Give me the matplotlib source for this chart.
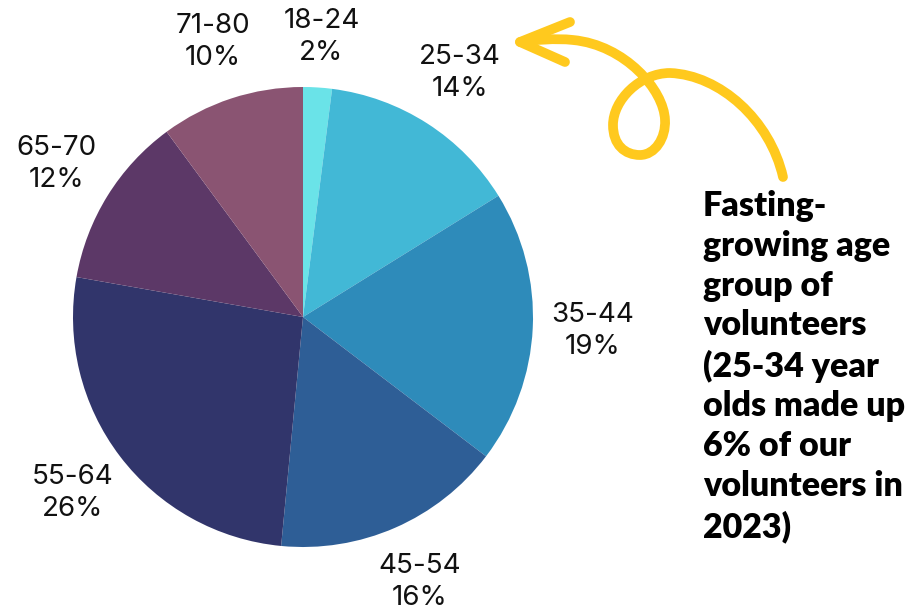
import numpy as np
import matplotlib.pyplot as plt
from matplotlib.path import Path
from matplotlib.patches import PathPatch

age_groups = ["18-24", "25-34", "35-44", "45-54", "55-64", "65-70", "71-80"]
shares = [2, 14, 19, 16, 26, 12, 10]
colors = ["#6AE3E8", "#42B8D6", "#2E8BBA", "#2E5E96", "#31356B", "#5C3867", "#8A5472"]
note = ("Fasting-\ngrowing age\ngroup of\nvolunteers\n(25-34 year\n"
        "olds made up\n6% of our\nvolunteers in\n2023)")

W, H = 911, 612
fig = plt.figure(figsize=(W / 100, H / 100), dpi=100)
fig.patch.set_facecolor("white")

# pie centre at (303, 317) px, radius 230 px
cx, cy, r = 303, 317, 230
ax = fig.add_axes([(cx - r) / W, (H - cy - r) / H, 2 * r / W, 2 * r / H])
labels = [f"{a}\n{s}%" for a, s in zip(age_groups, shares)]
wedges, texts = ax.pie(shares, labels=labels, colors=colors, startangle=90,
                       counterclock=False, labeldistance=1.26,
                       textprops=dict(fontsize=20, family="Inter", color="#111111",
                                      linespacing=1.3))
for t in texts:
    t.set_ha("center")
    t.set_clip_on(False)
# small label nudge for the thin top slice
x0, y0 = texts[0].get_position()
texts[0].set_position((x0, y0 - 0.04))
ax.set_xlim(-1, 1)
ax.set_ylim(-1, 1)
ax.axis("off")

fig.text(703 / W, 1 - 190 / H, note, ha="left", va="top", fontsize=24.5,
         family="Lato", weight="heavy", color="black", linespacing=1.3)

# curly arrow, drawn in pixel coords of the image
def px(x, y):
    return (x / W, 1 - y / H)

verts = [(783, 177), (770, 120), (720, 75), (670, 73),
         (640, 73), (613, 100), (613, 125),
         (613, 145), (625, 155), (640, 155),
         (655, 155), (666, 138), (665, 120),
         (664, 90), (625, 45), (573, 40),
         (555, 38), (535, 40), (520, 42)]
codes = [Path.MOVETO] + [Path.CURVE4] * (len(verts) - 1)
arrow = Path([px(*v) for v in verts], codes)
fig.patches.append(PathPatch(arrow, transform=fig.transFigure, fill=False,
                             edgecolor="#FFC91E", lw=7, capstyle="round",
                             joinstyle="round"))
head = Path([px(570, 22), px(520, 42), px(565, 62)],
            [Path.MOVETO, Path.LINETO, Path.LINETO])
fig.patches.append(PathPatch(head, transform=fig.transFigure, fill=False,
                             edgecolor="#FFC91E", lw=7, capstyle="round",
                             joinstyle="round"))

fig.savefig("out.png", dpi=100)
